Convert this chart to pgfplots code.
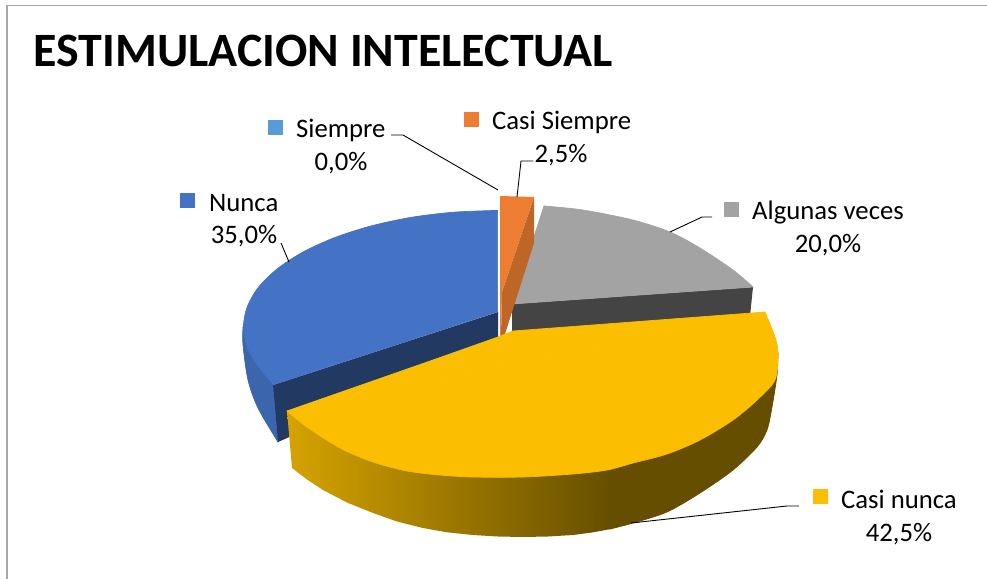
\documentclass[border=0pt]{standalone}
\usepackage{pgfplots}
\pgfplotsset{compat=1.18}
\usepackage{fontspec}
\setmainfont{Carlito}
\definecolor{cblue}{HTML}{4472C4}
\definecolor{cbluew}{HTML}{3B66AD}
\definecolor{cblued}{HTML}{223962}
\definecolor{corange}{HTML}{ED7D31}
\definecolor{cored}{HTML}{BE6528}
\definecolor{cgray}{HTML}{A3A3A3}
\definecolor{cgrayd}{HTML}{444444}
\definecolor{cyel}{HTML}{FCBE00}
\definecolor{cyl}{HTML}{D6A300}
\definecolor{cyd}{HTML}{654E00}
\definecolor{csky}{HTML}{5B9BD5}
\definecolor{cframe}{HTML}{A6A6A6}
\newcommand{\lab}{\fontsize{26.7bp}{30bp}\selectfont}
\tikzset{lb/.style={font=\lab, inner sep=0pt, text=black},
  pc/.style={fill=#1, draw=#1, line width=0.7bp, line join=round}}
\begin{document}
\begin{tikzpicture}
\path[use as bounding box] (0,0) rectangle (987bp,579bp);
\begin{axis}[
  at={(0,0)}, anchor=south west,
  scale only axis, width=987bp, height=579bp,
  xmin=0, xmax=987, ymin=0, ymax=579, y dir=reverse,
  axis lines=none, clip=false,
]
% frame
\addplot[cframe, line width=1.5bp] coordinates {(7,579) (7,5.5) (987,5.5)};
% gray slice
\addplot[fill=cgrayd, draw=none] coordinates {(512,304) (753,287) (750,316) (512,336)} -- cycle;
\addplot[pc=cgray] coordinates {(512,304) (544,206) (753,287)} -- cycle;
\addplot[pc=cgray, smooth] coordinates {(544,206) (583,210) (633,220) (670,232) (700,248) (733,270) (753,287)} -- cycle;
% blue slice
\addplot[pc=cbluew, smooth] coordinates {(243,327) (243,345) (248,380) (258,408) (278,442)} -- cycle;
\addplot[pc=cbluew] coordinates {(243,327) (278,442) (273,385)} -- cycle;
\addplot[fill=cblued, draw=none] coordinates {(498,312) (498,345) (278,442) (273,385)} -- cycle;
\addplot[pc=cblue] coordinates {(497.6,210.4) (273.4,384.6) (497.6,311.6)} -- cycle;
\addplot[pc=cblue, smooth] coordinates {(497.6,210.4) (453.7,212.2) (410.8,217.4) (370.5,226.1) (334.1,237.8) (302.7,252.2) (277.2,268.9) (258.4,287.3) (247.3,306.7) (243.4,327) (247.3,347.3) (258.7,366.8) (273.4,384.6)} -- cycle;
% orange slice
\addplot[fill=cored, draw=none] coordinates {(534,197) (534,243) (505,334) (501,336) (502,292)} -- cycle;
\addplot[fill=corange, draw=none] coordinates {(500,196) (534,197) (502,292) (501,336) (500,336)} -- cycle;
% yellow slice wall
\addplot[left color=cyl, right color=cyd, draw=none] coordinates {(287,411) (611,440) (611,529) (592,532.5) (573,535) (548,536.5) (523,537) (498,536.5) (473,535) (447,532.3) (423,528) (397,521.5) (373,513) (347,502.5) (323,490) (307,479.5) (292,468)} -- cycle;
\addplot[pc=cyd] coordinates {(610,440) (610,529) (778,353)} -- cycle;
\addplot[pc=cyd, smooth] coordinates {(610,529) (633,523) (667,512) (700,493) (733,470) (757,447) (767,430) (772,407) (777,375) (778,353)} -- cycle;
% yellow slice top
\addplot[pc=cyel] coordinates {(287,411) (433,360) (498,337) (513,331) (765,312)} -- cycle;
\addplot[pc=cyel, smooth] coordinates {(287,411) (307,427) (340,448) (373,462) (407,471) (440,475) (473,477) (523,477) (573,474) (607,470) (633,463) (667,454) (700,440) (733,420) (757,400) (775,380) (778,353) (775,337) (765,312)} -- cycle;
% leader lines
\addplot[black, line width=0.9bp] coordinates {(391,135) (403,135) (498,190)};
\addplot[black, line width=0.9bp] coordinates {(533,161) (521,161) (517,197)};
\addplot[black, line width=0.9bp] coordinates {(281,243) (289,262)};
\addplot[black, line width=0.9bp] coordinates {(712,217) (702,217) (670,232)};
\addplot[black, line width=0.9bp] coordinates {(799,506) (787,506) (631,523)};
% legend keys
\addplot[fill=csky, draw=none] coordinates {(268,120) (283,120) (283,135) (268,135)} -- cycle;
\addplot[fill=corange, draw=none] coordinates {(464,112) (479,112) (479,127) (464,127)} -- cycle;
\addplot[fill=cblue, draw=none] coordinates {(180,193) (195,193) (195,208) (180,208)} -- cycle;
\addplot[fill=cgray, draw=none] coordinates {(724,202) (739,202) (739,217) (724,217)} -- cycle;
\addplot[fill=cyel, draw=none] coordinates {(813,489) (828,489) (828,504) (813,504)} -- cycle;
% texts
\node[anchor=base west, inner sep=0pt, font=\fontsize{47.9bp}{50bp}\selectfont\bfseries] at (axis cs:33.5,67) {ESTIMULACION INTELECTUAL};
\node[lb, anchor=base west] at (axis cs:296,137) {Siempre};
\node[lb, anchor=base] at (axis cs:341,170) {0,0\%};
\node[lb, anchor=base west] at (axis cs:492,129) {Casi Siempre};
\node[lb, anchor=base] at (axis cs:561,162) {2,5\%};
\node[lb, anchor=base west] at (axis cs:209,211) {Nunca};
\node[lb, anchor=base] at (axis cs:244,243) {35,0\%};
\node[lb, anchor=base west] at (axis cs:752,219) {Algunas veces};
\node[lb, anchor=base] at (axis cs:828,252) {20,0\%};
\node[lb, anchor=base west] at (axis cs:841,508) {Casi nunca};
\node[lb, anchor=base] at (axis cs:899,541) {42,5\%};
\end{axis}
\end{tikzpicture}
\end{document}
